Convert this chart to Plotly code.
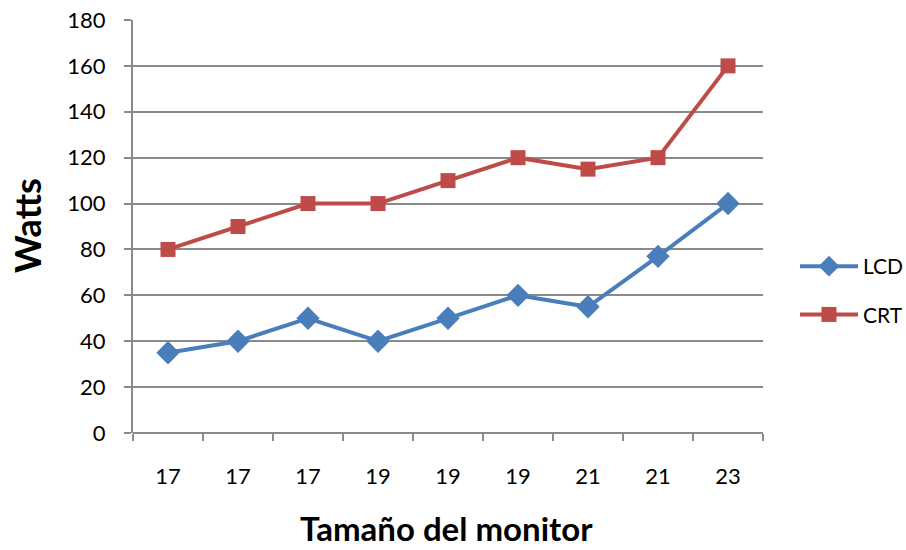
import plotly.graph_objects as go

categories = ["17", "17", "17", "19", "19", "19", "21", "21", "23"]
lcd = [35, 40, 50, 40, 50, 60, 55, 77, 100]
crt = [80, 90, 100, 100, 110, 120, 115, 120, 160]
y_ticks = [0, 20, 40, 60, 80, 100, 120, 140, 160, 180]

xpos = list(range(len(categories)))
font = "Lato, 'Open Sans', sans-serif"
grid = "#8a8a8a"

L, R, T, B = 133, 143, 20, 117
W, H = 906, 550
pw, ph = W - L - R, H - T - B


def px_x(x):
    return (x - L) / pw


def px_y(y):
    return (H - B - y) / ph


fig = go.Figure()
fig.add_trace(go.Scatter(x=xpos, y=lcd, name="LCD", mode="lines+markers",
                         legendgroup="a",
                         line=dict(color="#4a7ebb", width=4),
                         marker=dict(symbol="diamond", size=18, color="#4a7ebb")))
fig.add_trace(go.Scatter(x=xpos, y=crt, name="CRT", mode="lines+markers",
                         legendgroup="b",
                         line=dict(color="#be4b48", width=4),
                         marker=dict(symbol="square", size=15, color="#be4b48")))

fig.update_layout(
    width=W, height=H,
    margin=dict(l=L, r=R, t=T, b=B, autoexpand=False),
    paper_bgcolor="white", plot_bgcolor="white",
    font=dict(family=font, size=22, color="#000000"),
    showlegend=True,
    legend=dict(x=px_x(795), y=px_y(290.5), xanchor="left", yanchor="middle",
                font=dict(size=21), itemwidth=58, tracegroupgap=18,
                bgcolor="rgba(0,0,0,0)"),
    xaxis=dict(range=[-0.5, len(categories) - 0.5], automargin=False,
               tickmode="array", tickvals=xpos, ticktext=categories,
               ticks="", showgrid=False, zeroline=False,
               showline=False, ticklabelstandoff=28,
               minor=dict(tickmode="array",
                          tickvals=[i - 0.5 for i in range(len(categories) + 1)],
                          ticks="outside", ticklen=7, tickwidth=2,
                          tickcolor=grid, showgrid=False)),
    yaxis=dict(range=[0, 180], tickmode="array", tickvals=y_ticks, automargin=False,
               ticks="outside", ticklen=7, tickwidth=2, tickcolor=grid,
               showgrid=True, gridcolor=grid, gridwidth=2,
               zeroline=True, zerolinecolor=grid, zerolinewidth=2,
               showline=True, linecolor=grid, linewidth=2,
               ticklabelstandoff=14),
    annotations=[
        dict(text="<b>Watts</b>", x=px_x(27), y=px_y(225), xref="paper", yref="paper",
             xanchor="center", yanchor="middle",
             showarrow=False, textangle=-90, font=dict(size=36)),
        dict(text="<b>Tamaño del monitor</b>", x=px_x(446), y=px_y(528),
             xref="paper", yref="paper", xanchor="center", yanchor="middle",
             showarrow=False, font=dict(size=33)),
    ],
)

fig.write_html("out.html", config={"displayModeBar": False},
               post_script="document.body.style.margin='0';document.body.style.overflow='hidden';")
